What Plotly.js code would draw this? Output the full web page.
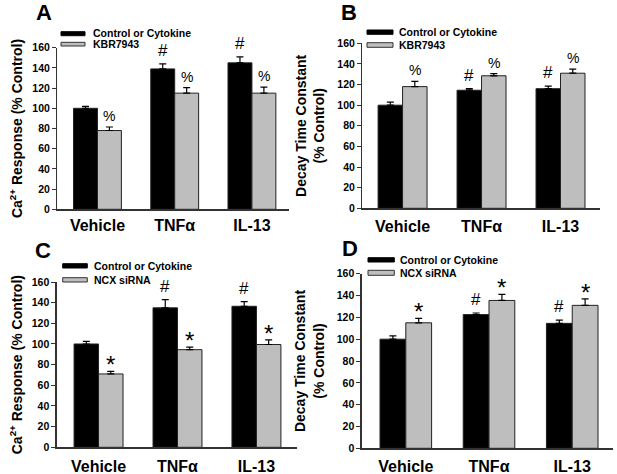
<!DOCTYPE html>
<html>
<head>
<meta charset="utf-8">
<script src="https://cdn.plot.ly/plotly-3.0.1.min.js"></script>
<style>
  html, body { margin: 0; padding: 0; background: #fff; }
  #chart { width: 617px; height: 474px; }
</style>
</head>
<body>
<div id="chart"></div>
<script>
// ---------- DATA ----------
const categories = ['Vehicle', 'TNFα', 'IL-13'];
const controlName = 'Control or Cytokine';
const kbrName = 'KBR7943';
const sirnaName = 'NCX siRNA';
const panelLetters = ['A', 'B', 'C', 'D'];
const caTitle = 'Ca<sup>2+</sup> Response (% Control)';
const decayTitle = 'Decay Time Constant<br>(% Control)';

// Panel A: Ca2+ response, KBR7943
const aControl = [100, 139, 145];
const aControlErr = [2, 5, 6];
const aKbr = [78, 115, 115];
const aKbrErr = [3.5, 5.5, 6];
const aControlMarks = ['', '#', '#'];
const aKbrMarks = ['%', '%', '%'];

// Panel B: decay time constant, KBR7943
const bControl = [100, 114.5, 116];
const bControlErr = [3, 1.5, 2.5];
const bKbr = [118, 128.5, 131];
const bKbrErr = [5, 2, 4];
const bControlMarks = ['', '#', '#'];
const bKbrMarks = ['%', '%', '%'];

// Panel C: Ca2+ response, NCX siRNA
const cControl = [100, 135, 136.5];
const cControlErr = [2.5, 8, 4.5];
const cSirna = [71, 94.5, 99.5];
const cSirnaErr = [2.5, 2.5, 4.5];
const cControlMarks = ['', '#', '#'];
const cSirnaMarks = ['*', '*', '*'];

// Panel D: decay time constant, NCX siRNA
const dControl = [100, 122.5, 114.5];
const dControlErr = [3, 1.5, 3];
const dSirna = [115, 135.5, 131];
const dSirnaErr = [4, 5.5, 6];
const dControlMarks = ['', '#', '#'];
const dSirnaMarks = ['*', '*', '*'];

const yTickVals = [0, 20, 40, 60, 80, 100, 120, 140, 160];

// ---------- STYLE / LAYOUT ----------
const W = 617, H = 474;
const FONT = 'Arial, "Liberation Sans", Helvetica, sans-serif';
const BLACK = '#000000';
const GRAY = '#bebebe';
const BARGAP = 0.38;
const barOffset = (1 - BARGAP) / 4;

const px2x = p => p / W;
const px2y = p => 1 - p / H;

const panels = [
  { id: '', ctrl: aControl, ctrlErr: aControlErr, trt: aKbr, trtErr: aKbrErr,
    ctrlMarks: aControlMarks, trtMarks: aKbrMarks, trtName: kbrName, title: caTitle,
    xd: [57.3, 289], yd: [209.3, 47.7], xr: [-0.52, 2.48], standoff: 6, xticklen: 1,
    letter: [44, 12.5], leg: { x0: 61, x1: 85, y1: [31.7, 35.7], y2: [42.3, 46], tx: 91, ty: [33.3, 44.3] } },
  { id: '2', ctrl: bControl, ctrlErr: bControlErr, trt: bKbr, trtErr: bKbrErr,
    ctrlMarks: bControlMarks, trtMarks: bKbrMarks, trtName: kbrName, title: decayTitle,
    xd: [362.3, 600], yd: [208.3, 43.3], xr: [-0.51, 2.5], standoff: 9, xticklen: 3.5,
    letter: [348.7, 12], leg: { x0: 367, x1: 393, y1: [30, 34.3], y2: [42.7, 47.3], tx: 397, ty: [32.3, 45.3] } },
  { id: '3', ctrl: cControl, ctrlErr: cControlErr, trt: cSirna, trtErr: cSirnaErr,
    ctrlMarks: cControlMarks, trtMarks: cSirnaMarks, trtName: sirnaName, title: caTitle,
    xd: [56.7, 296.7], yd: [447.3, 282], xr: [-0.53, 2.51], standoff: 6, xticklen: 4,
    letter: [42.5, 250], leg: { x0: 62.7, x1: 87.3, y1: [263.7, 268], y2: [277.7, 282], tx: 91.7, ty: [265.7, 279.7] } },
  { id: '4', ctrl: dControl, ctrlErr: dControlErr, trt: dSirna, trtErr: dSirnaErr,
    ctrlMarks: dControlMarks, trtMarks: dSirnaMarks, trtName: sirnaName, title: decayTitle,
    xd: [361.7, 613], yd: [448.3, 273.7], xr: [-0.53, 2.49], standoff: 9, xticklen: 3.5,
    letter: [350, 248.7], leg: { x0: 368, x1: 394.3, y1: [257.7, 262], y2: [270.3, 275.3], tx: 398, ty: [259.7, 272.7] } }
];

const markStyle = {
  '#': { size: 17, shift: 2 },
  '%': { size: 14, shift: 1 },
  '*': { size: 24, shift: -9 }
};

const traces = [];
const annotations = [];
const shapes = [];
const layout = {
  width: W, height: H,
  margin: { l: 0, r: 0, t: 0, b: 0 },
  paper_bgcolor: '#fff', plot_bgcolor: '#fff',
  showlegend: false,
  barmode: 'group', bargap: BARGAP, bargroupgap: 0,
  font: { family: FONT, color: '#000' }
};

panels.forEach((p, k) => {
  const xa = 'x' + p.id, ya = 'y' + p.id;
  const zeros = p.ctrl.map(() => 0);
  const mkBar = (name, vals, errs, color) => ({
    type: 'bar', name: name, x: categories, y: vals, xaxis: xa, yaxis: ya,
    marker: { color: color, line: { color: '#222', width: 1 } },
    error_y: { type: 'data', symmetric: false, array: errs, arrayminus: zeros,
               color: '#000', thickness: 1.2, width: 3.5 },
    hoverinfo: 'x+y+name'
  });
  traces.push(mkBar(controlName, p.ctrl, p.ctrlErr, BLACK));
  traces.push(mkBar(p.trtName, p.trt, p.trtErr, GRAY));

  layout['xaxis' + p.id] = {
    domain: [px2x(p.xd[0]), px2x(p.xd[1])], anchor: ya,
    type: 'category', range: p.xr, fixedrange: true,
    showline: true, linecolor: '#333', linewidth: 1.3,
    showgrid: false, zeroline: false,
    ticks: 'outside', ticklen: p.xticklen, tickcolor: 'rgba(0,0,0,0)',
    tickfont: { size: 16, weight: 'bold', family: FONT, color: '#000' }
  };
  layout['yaxis' + p.id] = {
    domain: [px2y(p.yd[0]), px2y(p.yd[1])], anchor: xa,
    range: [0, 160], fixedrange: true,
    tickvals: yTickVals,
    showline: true, linecolor: '#333', linewidth: 1.3,
    showgrid: false, zeroline: false,
    ticks: 'outside', ticklen: 4, tickcolor: '#333', tickwidth: 1,
    tickfont: { size: 10.5, weight: 'bold', family: FONT, color: '#000' },
    title: { text: p.title, standoff: p.standoff,
             font: { size: 14, weight: 'bold', family: FONT, color: '#000' } }
  };

  // significance marks
  const addMarks = (vals, errs, marks, off) => {
    vals.forEach((v, i) => {
      const m = marks[i];
      if (!m) return;
      const st = markStyle[m];
      annotations.push({
        xref: xa, yref: ya, x: i + off, y: v + errs[i], text: m,
        showarrow: false, yanchor: 'bottom', yshift: st.shift,
        font: { size: st.size, family: FONT, color: '#000' }
      });
    });
  };
  addMarks(p.ctrl, p.ctrlErr, p.ctrlMarks, -barOffset);
  addMarks(p.trt, p.trtErr, p.trtMarks, barOffset);

  // panel letter
  annotations.push({
    xref: 'paper', yref: 'paper', x: px2x(p.letter[0]), y: px2y(p.letter[1]),
    text: panelLetters[k], showarrow: false, xanchor: 'center', yanchor: 'middle',
    font: { size: 22, weight: 'bold', family: FONT, color: '#000' }
  });

  // legend (custom swatches)
  const L = p.leg;
  shapes.push({ type: 'rect', xref: 'paper', yref: 'paper',
    x0: px2x(L.x0), x1: px2x(L.x1), y0: px2y(L.y1[1]), y1: px2y(L.y1[0]),
    fillcolor: BLACK, line: { color: '#000', width: 1 } });
  shapes.push({ type: 'rect', xref: 'paper', yref: 'paper',
    x0: px2x(L.x0), x1: px2x(L.x1), y0: px2y(L.y2[1]), y1: px2y(L.y2[0]),
    fillcolor: GRAY, line: { color: '#333', width: 1 } });
  [controlName, p.trtName].forEach((nm, j) => {
    annotations.push({
      xref: 'paper', yref: 'paper', x: px2x(L.tx), y: px2y(L.ty[j]),
      text: nm, showarrow: false, xanchor: 'left', yanchor: 'middle',
      font: { size: 10.5, weight: 'bold', family: FONT, color: '#000' }
    });
  });
});

layout.annotations = annotations;
layout.shapes = shapes;

Plotly.newPlot('chart', traces, layout, { displayModeBar: false, staticPlot: true });
</script>
</body>
</html>
